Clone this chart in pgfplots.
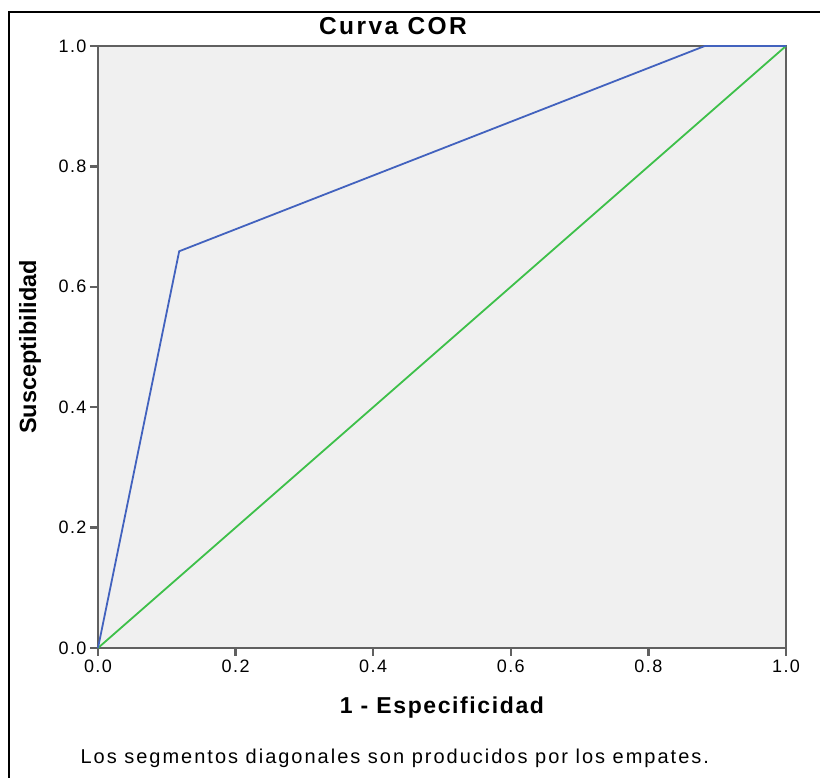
\documentclass[border=0pt]{standalone}
\usepackage{pgfplots}
\pgfplotsset{compat=1.18}
\usepackage{fontspec}
\setmainfont{Liberation Sans}

\definecolor{rocblue}{HTML}{4262BE}
\definecolor{rocgreen}{HTML}{3EC04A}
\definecolor{panelbg}{HTML}{F0F0F0}
\definecolor{axisgray}{HTML}{606060}

\begin{document}
\begin{tikzpicture}
\useasboundingbox (-98pt,-130pt) rectangle (722pt,648pt);
% outer frame (only left and top edges visible)
\draw[black, line width=1.5pt] (-89pt,-140pt) -- (-89pt,636pt) -- (740pt,636pt);

\begin{axis}[
  at={(0pt,0pt)}, anchor=south west,
  scale only axis,
  width=688pt, height=602pt,
  xmin=0, xmax=1, ymin=0, ymax=1,
  axis background/.style={fill=panelbg},
  axis line style={axisgray, line width=2.6pt},
  xtick={0,0.2,0.4,0.6,0.8,1.0},
  ytick={0,0.2,0.4,0.6,0.8,1.0},
  xticklabel style={/pgf/number format/.cd, fixed, fixed zerofill, precision=1},
  yticklabel style={/pgf/number format/.cd, fixed, fixed zerofill, precision=1},
  /pgf/number format/assume math mode=true,
  tick align=outside,
  major tick length=8pt,
  tick style={axisgray, line width=2.4pt},
  tick label style={font=\fontsize{18}{20}\selectfont\addfontfeatures{LetterSpace=8}},
  xtick pos=bottom, ytick pos=left,
  clip=false,
]
\addplot[rocgreen, line width=1.8pt] coordinates {(0,0) (1,1)};
\addplot[rocblue, line width=1.8pt] coordinates {(0,0) (0.118,0.659) (0.882,1) (1,1)};
\end{axis}

\node[font=\bfseries\fontsize{24.5}{26}\selectfont\addfontfeatures{LetterSpace=10}] at (295pt,622pt) {Curva COR};
\node[font=\bfseries\fontsize{23.5}{25}\selectfont, rotate=90] at (-68pt,301pt) {Susceptibilidad};
\node[font=\bfseries\fontsize{23}{25}\selectfont\addfontfeatures{LetterSpace=7}] at (344pt,-60pt) {1 - Especificidad};
\node[font=\fontsize{20}{22}\selectfont\addfontfeatures{LetterSpace=10}, anchor=west] at (-21pt,-110pt) {Los segmentos diagonales son producidos por los empates.};
\end{tikzpicture}
\end{document}
